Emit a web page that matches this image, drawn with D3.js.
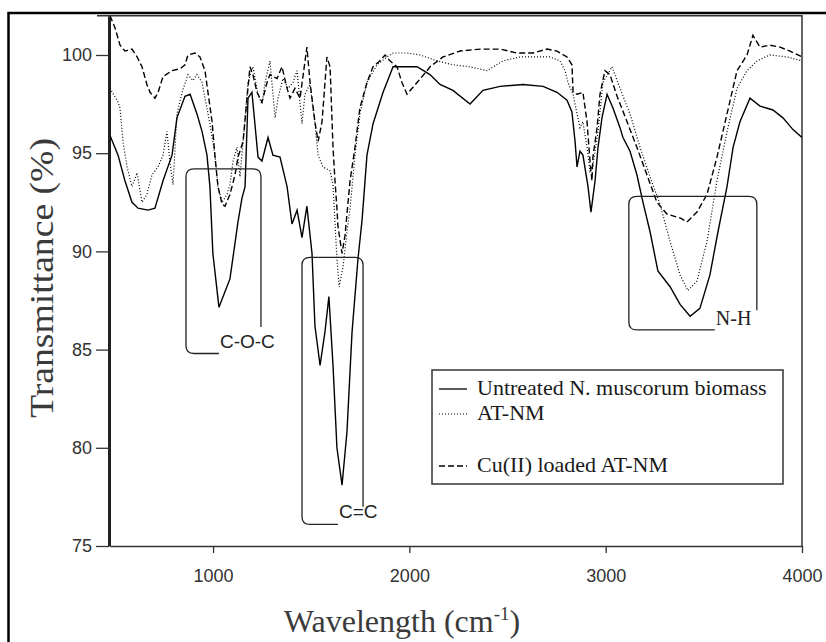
<!DOCTYPE html>
<html>
<head>
<meta charset="utf-8">
<script src="https://cdn.jsdelivr.net/npm/d3@7"></script>
<style>
  body { margin: 0; background: #fff; }
</style>
</head>
<body>
<svg id="chart" width="826" height="642"></svg>
<script>
// [wavenumber, transmittance]
const untreated = [
  [475,95.9],[516,94.9],[551,93.6],[587,92.5],[618,92.2],[669,92.1],[704,92.2],[745,93.6],
  [791,94.9],[816,96.8],[857,97.9],[883,98.0],[918,97.0],[944,96.1],[969,94.9],[984,93.3],
  [999,89.9],[1030,87.15],[1086,88.6],[1127,91.5],[1147,92.7],[1163,93.3],[1178,97.8],[1198,98.1],
  [1229,94.8],[1249,94.6],[1280,95.8],[1305,94.9],[1341,94.8],[1377,93.3],[1402,91.4],[1428,92.1],
  [1453,90.7],[1478,92.3],[1504,89.9],[1519,86.2],[1545,84.2],[1570,85.9],[1590,87.7],[1611,84.2],
  [1631,80.0],[1657,78.1],[1682,80.8],[1708,85.9],[1738,89.6],[1759,91.6],[1784,94.9],[1815,96.5],
  [1866,98.1],[1917,99.4],[1968,99.4],[2039,99.4],[2105,99.0],[2156,98.5],[2222,98.2],[2309,97.5],
  [2375,98.2],[2462,98.4],[2579,98.5],[2681,98.4],[2752,98.1],[2803,97.7],[2828,97.1],[2844,95.6],
  [2854,94.3],[2869,95.1],[2884,94.9],[2910,93.3],[2925,92.0],[2946,93.6],[2961,95.3],[2981,96.8],
  [3007,98.0],[3037,97.3],[3073,96.3],[3088,95.8],[3124,95.1],[3159,93.9],[3190,92.5],[3226,91.0],
  [3266,89.0],[3328,88.2],[3379,87.3],[3430,86.7],[3480,87.1],[3531,88.8],[3572,91.0],[3618,93.3],
  [3649,95.3],[3684,96.6],[3735,97.8],[3786,97.4],[3852,97.2],[3903,96.8],[3954,96.2],[4000,95.8]
];

const atnm = [
  [475,98.3],[516,97.6],[526,97.3],[541,95.6],[562,94.3],[587,93.3],[613,94.0],[638,92.5],
  [663,92.9],[689,93.9],[720,94.3],[745,94.9],[765,96.1],[781,94.5],[796,93.4],[816,97.0],
  [842,98.1],[872,99.0],[898,98.7],[918,99.0],[944,98.6],[959,97.8],[984,96.5],[1010,94.9],
  [1025,93.3],[1046,92.5],[1071,92.9],[1086,93.4],[1102,94.6],[1122,95.3],[1137,93.8],[1153,95.6],
  [1178,98.6],[1203,99.4],[1229,98.0],[1249,97.5],[1265,98.6],[1290,99.7],[1316,96.8],[1331,97.8],
  [1356,98.8],[1382,98.3],[1407,98.6],[1428,99.2],[1453,96.5],[1468,98.0],[1494,98.5],[1519,96.5],
  [1535,94.9],[1560,94.3],[1596,94.1],[1611,93.4],[1631,89.6],[1642,88.2],[1662,89.2],[1682,91.0],
  [1698,92.2],[1723,94.9],[1748,97.0],[1784,98.6],[1835,99.5],[1886,99.9],[1917,100.1],[1988,100.1],
  [2054,100.0],[2141,99.7],[2222,99.5],[2309,99.4],[2395,99.2],[2477,99.7],[2564,99.9],[2716,99.9],
  [2767,99.7],[2793,99.2],[2808,98.6],[2834,98.0],[2854,97.0],[2869,96.3],[2884,96.6],[2905,95.3],
  [2920,94.1],[2935,94.4],[2961,96.1],[2986,98.6],[3032,99.4],[3073,98.3],[3124,97.0],[3175,95.3],
  [3226,93.8],[3277,92.4],[3328,90.5],[3379,88.8],[3419,88.0],[3465,88.5],[3516,90.5],[3567,93.6],
  [3618,96.1],[3669,98.3],[3720,99.2],[3771,99.7],[3837,100.0],[3924,99.9],[4000,99.7]
];

const cuLoaded = [
  [475,102.0],[500,101.4],[526,100.5],[551,100.2],[587,100.3],[613,99.9],[638,99.4],[663,98.5],
  [679,98.1],[704,97.8],[720,98.1],[745,98.9],[791,99.2],[832,99.3],[857,99.5],[872,100.0],
  [908,100.1],[933,99.9],[959,99.2],[974,98.1],[995,96.6],[1010,94.8],[1025,93.3],[1046,92.4],
  [1061,92.3],[1086,92.9],[1112,93.9],[1127,94.8],[1153,95.6],[1173,97.8],[1188,99.4],[1203,99.0],
  [1224,98.1],[1249,97.6],[1275,98.6],[1290,99.0],[1326,98.8],[1351,99.4],[1377,98.3],[1392,97.8],
  [1417,98.3],[1443,97.8],[1478,100.4],[1494,98.6],[1519,96.6],[1535,95.6],[1555,96.6],[1580,99.9],
  [1596,99.4],[1611,95.3],[1621,93.6],[1631,92.2],[1636,91.3],[1657,89.9],[1672,90.8],[1682,91.9],
  [1698,93.6],[1723,95.3],[1748,97.3],[1784,98.6],[1815,99.4],[1850,99.7],[1876,100.0],[1901,99.7],
  [1937,99.4],[1962,98.6],[1988,98.0],[2039,98.6],[2090,99.2],[2105,99.4],[2171,99.9],[2258,100.2],
  [2360,100.3],[2462,100.3],[2548,100.1],[2630,100.1],[2701,100.3],[2752,100.2],[2803,99.9],[2828,99.5],
  [2834,98.1],[2854,98.0],[2884,98.1],[2905,96.6],[2920,94.6],[2930,93.6],[2935,94.8],[2956,96.3],
  [2971,98.0],[2996,99.2],[3022,99.0],[3058,97.9],[3109,96.6],[3159,95.3],[3210,93.9],[3261,92.5],
  [3312,91.9],[3379,91.7],[3414,91.5],[3465,92.0],[3516,92.9],[3567,94.8],[3618,97.0],[3669,99.2],
  [3720,100.0],[3750,101.0],[3786,100.4],[3837,100.5],[3888,100.4],[3939,100.2],[4000,99.9]
];

const seriesNames = ["Untreated N. muscorum biomass", "AT-NM", "Cu(II) loaded AT-NM"];
const xTicks = [1000, 2000, 3000, 4000];
const yTicks = [75, 80, 85, 90, 95, 100];

// bracket boxes: left, right, end of bottom line (wavenumber); top, left bottom, right bottom (%)
const groups = [
  { label: "C-O-C", x0: 862,  x1: 1244, xEnd: 1030, top: 94.2, botL: 84.8, botR: 86.15, serif: false },
  { label: "C=C",   x0: 1453, x1: 1764, xEnd: 1636, top: 89.7, botL: 76.1, botR: 77.0,  serif: false },
  { label: "N-H",   x0: 3118, x1: 3770, xEnd: 3556, top: 92.8, botL: 86.0, botR: 87.0,  serif: true }
];

const svg = d3.select("#chart");

const x = d3.scaleLinear().domain([475, 4000]).range([110, 802]);
const y = d3.scaleLinear().domain([75, 102]).range([546, 15.7]);

// outer frame (only top and left visible)
svg.append("path")
  .attr("d", "M8.5,642 V13 H826")
  .attr("fill", "none")
  .attr("stroke", "#000")
  .attr("stroke-width", 2.5);

// plot border top and right
svg.append("path")
  .attr("d", `M97,${y(102)} H${x(4000)} V${y(75)}`)
  .attr("fill", "none")
  .attr("stroke", "#333")
  .attr("stroke-width", 1.5);

// axes
const yAxis = svg.append("g")
  .attr("transform", "translate(109,0)")
  .call(d3.axisLeft(y).tickValues(yTicks).tickFormat(d3.format("d"))
    .tickSize(13).tickSizeOuter(0).tickPadding(4));
yAxis.select(".domain").attr("stroke", "#222").attr("stroke-width", 3);
yAxis.selectAll(".tick line").attr("stroke", "#333").attr("stroke-width", 1.3);
yAxis.selectAll("text")
  .style("font-family", "Arial, 'Liberation Sans', sans-serif")
  .style("font-size", "18px")
  .attr("fill", "#333");

const xAxis = svg.append("g")
  .attr("transform", "translate(0,546)")
  .call(d3.axisBottom(x).tickValues(xTicks).tickFormat(d3.format("d"))
    .tickSize(7).tickSizeOuter(0).tickPadding(16));
xAxis.select(".domain").attr("stroke", "#333").attr("stroke-width", 1.5);
xAxis.selectAll(".tick line").attr("stroke", "#333").attr("stroke-width", 1.3);
xAxis.selectAll("text")
  .style("font-family", "Arial, 'Liberation Sans', sans-serif")
  .style("font-size", "18px")
  .attr("fill", "#333");

// axis titles
svg.append("text")
  .attr("transform", "translate(42,278) rotate(-90)")
  .attr("text-anchor", "middle")
  .attr("dominant-baseline", "central")
  .attr("textLength", 280)
  .attr("lengthAdjust", "spacingAndGlyphs")
  .style("font-family", "'Times New Roman', 'Liberation Serif', serif")
  .style("font-size", "33px")
  .attr("fill", "#3a3a3a")
  .text("Transmittance (%)");

const xt = svg.append("text")
  .attr("x", 402)
  .attr("y", 632)
  .attr("text-anchor", "middle")
  .style("font-family", "'Times New Roman', 'Liberation Serif', serif")
  .style("font-size", "32px")
  .attr("fill", "#3a3a3a");
xt.append("tspan").text("Wavelength (cm");
xt.append("tspan").attr("dy", -12).style("font-size", "19px").text("-1");
xt.append("tspan").attr("dy", 12).text(")");

// curves
svg.append("clipPath").attr("id", "plotclip")
  .append("rect").attr("x", 110).attr("y", y(102)).attr("width", x(4000) - 110).attr("height", y(75) - y(102));

const line = d3.line().x(d => x(d[0])).y(d => y(d[1]));

const styles = [
  { data: untreated, dash: null,  width: 1.4 },
  { data: atnm,      dash: "1,2", width: 1.2 },
  { data: cuLoaded,  dash: "6,3", width: 1.4 }
];

const curves = svg.append("g").attr("clip-path", "url(#plotclip)");
styles.forEach(s => {
  curves.append("path")
    .datum(s.data)
    .attr("d", line)
    .attr("fill", "none")
    .attr("stroke", "#000")
    .attr("stroke-width", s.width)
    .attr("stroke-dasharray", s.dash);
});

// bracket annotations
function bracket(g, r) {
  const x0 = x(g.x0), x1 = x(g.x1), xe = x(g.xEnd);
  const yt = y(g.top), yl = y(g.botL), yr = y(g.botR);
  return `M${xe},${yl} H${x0 + r} Q${x0},${yl} ${x0},${yl - r} V${yt + r} Q${x0},${yt} ${x0 + r},${yt}` +
         ` H${x1 - r} Q${x1},${yt} ${x1},${yt + r} V${yr}`;
}

groups.forEach(g => {
  svg.append("path")
    .attr("d", bracket(g, 8))
    .attr("fill", "none")
    .attr("stroke", "#222")
    .attr("stroke-width", 1.3);
  svg.append("text")
    .attr("x", x(g.xEnd) + 1)
    .attr("y", y(g.botL) + (g.serif ? -5 : -6))
    .style("font-family", g.serif ? "'Times New Roman', 'Liberation Serif', serif" : "Arial, 'Liberation Sans', sans-serif")
    .style("font-size", g.serif ? "20px" : "19px")
    .attr("fill", "#222")
    .text(g.label);
});

// legend
const legend = svg.append("g");
legend.append("rect")
  .attr("x", 432).attr("y", 370).attr("width", 351).attr("height", 114)
  .attr("fill", "#fff").attr("stroke", "#333").attr("stroke-width", 1.5);

const legendRows = [395, 420, 472];
seriesNames.forEach((name, i) => {
  legend.append("line")
    .attr("x1", 439).attr("x2", 467)
    .attr("y1", legendRows[i] - 6).attr("y2", legendRows[i] - 6)
    .attr("stroke", "#000")
    .attr("stroke-width", i === 1 ? 1 : 1.3)
    .attr("stroke-dasharray", styles[i].dash);
  legend.append("text")
    .attr("x", 477).attr("y", legendRows[i])
    .style("font-family", "'Times New Roman', 'Liberation Serif', serif")
    .style("font-size", "22px")
    .attr("fill", "#1a1a1a")
    .text(name);
});
</script>
</body>
</html>
